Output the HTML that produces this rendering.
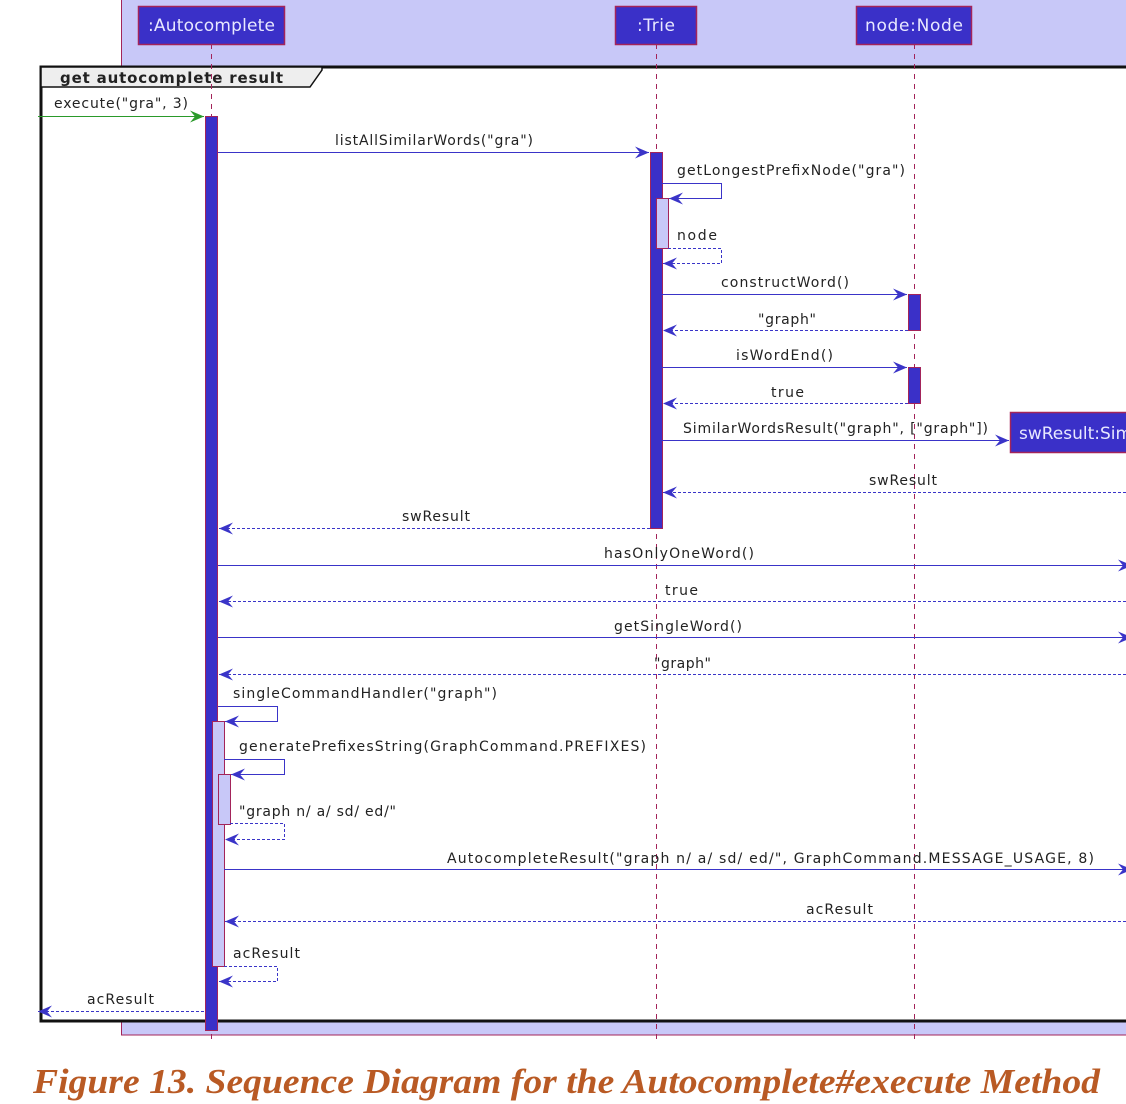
<!DOCTYPE html>
<html><head><meta charset="utf-8"><style>
html,body{margin:0;padding:0;background:#fff;width:1126px;height:1104px;overflow:hidden}
svg{display:block}
text{font-family:"DejaVu Sans","Liberation Sans",sans-serif;font-size:14px;fill:#222}
</style></head><body>
<svg width="1126" height="1104" viewBox="0 0 1126 1104" xmlns="http://www.w3.org/2000/svg">
<defs>
<marker id="a" viewBox="0 0 14 12" refX="14" refY="6" markerWidth="14" markerHeight="12" markerUnits="userSpaceOnUse" orient="auto"><polygon points="0,0 14,6 0,12 5,6" fill="#3a34c8"/></marker>
<marker id="g" viewBox="0 0 14 12" refX="14" refY="6" markerWidth="14" markerHeight="12" markerUnits="userSpaceOnUse" orient="auto"><polygon points="0,0 14,6 0,12 5,6" fill="#2a9a2a"/></marker>
</defs>
<rect x="121.5" y="-5" width="1020" height="1040" fill="#c8c8f8" stroke="#a3245a" stroke-width="1"/>
<rect x="41" y="67" width="1100" height="954" fill="#fff" stroke="#111" stroke-width="3"/>
<polygon points="41,67 322,67 322,70 310,87 41,87" fill="#eee" stroke="#111" stroke-width="1.5"/>
<text x="60" y="83" style="font-weight:bold;font-size:15px" textLength="223">get autocomplete result</text>
<g stroke="#a3245a" stroke-width="1" stroke-dasharray="5,5">
<line x1="211.5" y1="44" x2="211.5" y2="1042"/>
<line x1="656.5" y1="44" x2="656.5" y2="1042"/>
<line x1="914.5" y1="44" x2="914.5" y2="1042"/>
</g>
<g fill="#3a30c8" stroke="#a3245a" stroke-width="1.5">
<rect x="138.5" y="6.5" width="146" height="38"/>
<rect x="615.5" y="6.5" width="81" height="38"/>
<rect x="856.5" y="6.5" width="115" height="38"/>
<rect x="1010.5" y="412.5" width="130" height="40"/>
</g>
<text x="148" y="31" style="fill:#e8e8ff;font-size:17px" textLength="127">:Autocomplete</text>
<text x="637" y="31" style="fill:#e8e8ff;font-size:17px" textLength="38">:Trie</text>
<text x="865" y="31" style="fill:#e8e8ff;font-size:17px" textLength="98">node:Node</text>
<text x="1019" y="439" style="fill:#e8e8ff;font-size:17px">swResult:SimilarWordsResult</text>
<g stroke="#a3245a" stroke-width="1">
<rect x="205.5" y="116.5" width="12" height="914" fill="#3a30c8"/>
<rect x="650.5" y="152.5" width="12" height="376" fill="#3a30c8"/>
<rect x="656.5" y="198.5" width="12" height="50" fill="#c8c8f8"/>
<rect x="908.5" y="294.5" width="12" height="36" fill="#3a30c8"/>
<rect x="908.5" y="367.5" width="12" height="36" fill="#3a30c8"/>
<rect x="212.5" y="721.5" width="12" height="245" fill="#c8c8f8"/>
<rect x="218.5" y="774.5" width="12" height="50" fill="#c8c8f8"/>
</g>
<g fill="none" stroke="#3a34c8" stroke-width="1">
<line x1="38" y1="116.5" x2="204" y2="116.5" stroke="#2a9a2a" marker-end="url(#g)"/>
<line x1="218" y1="152.5" x2="649" y2="152.5" marker-end="url(#a)"/>
<polyline points="662,183.5 721.5,183.5 721.5,198.5 669,198.5" marker-end="url(#a)"/>
<polyline points="668,248.5 721.5,248.5 721.5,263.5 663,263.5" stroke-dasharray="3,2" marker-end="url(#a)"/>
<line x1="662" y1="294.5" x2="907" y2="294.5" marker-end="url(#a)"/>
<line x1="908" y1="330.5" x2="663" y2="330.5" stroke-dasharray="3,2" marker-end="url(#a)"/>
<line x1="662" y1="367.5" x2="907" y2="367.5" marker-end="url(#a)"/>
<line x1="908" y1="403.5" x2="663" y2="403.5" stroke-dasharray="3,2" marker-end="url(#a)"/>
<line x1="662" y1="440.5" x2="1009" y2="440.5" marker-end="url(#a)"/>
<line x1="1126" y1="492.5" x2="663" y2="492.5" stroke-dasharray="3,2" marker-end="url(#a)"/>
<line x1="650" y1="528.5" x2="219" y2="528.5" stroke-dasharray="3,2" marker-end="url(#a)"/>
<line x1="218" y1="565.5" x2="1132" y2="565.5" marker-end="url(#a)"/>
<line x1="1126" y1="601.5" x2="219" y2="601.5" stroke-dasharray="3,2" marker-end="url(#a)"/>
<line x1="218" y1="637.5" x2="1132" y2="637.5" marker-end="url(#a)"/>
<line x1="1126" y1="674.5" x2="219" y2="674.5" stroke-dasharray="3,2" marker-end="url(#a)"/>
<polyline points="218,706.5 277.5,706.5 277.5,721.5 225,721.5" marker-end="url(#a)"/>
<polyline points="224,759.5 284.5,759.5 284.5,774.5 231,774.5" marker-end="url(#a)"/>
<polyline points="230,823.5 284.5,823.5 284.5,839.5 225,839.5" stroke-dasharray="3,2" marker-end="url(#a)"/>
<line x1="224" y1="869.5" x2="1132" y2="869.5" marker-end="url(#a)"/>
<line x1="1126" y1="921.5" x2="225" y2="921.5" stroke-dasharray="3,2" marker-end="url(#a)"/>
<polyline points="224,966.5 277.5,966.5 277.5,981.5 219,981.5" stroke-dasharray="3,2" marker-end="url(#a)"/>
<line x1="204" y1="1011.5" x2="38" y2="1011.5" stroke-dasharray="3,2" marker-end="url(#a)"/>
</g>
<text x="54" y="108" textLength="134">execute("gra", 3)</text>
<text x="335" y="145" textLength="198">listAllSimilarWords("gra")</text>
<text x="677" y="175" textLength="228">getLongestPrefixNode("gra")</text>
<text x="677" y="240" textLength="40">node</text>
<text x="721" y="287" textLength="128">constructWord()</text>
<text x="758" y="324" textLength="58">"graph"</text>
<text x="736" y="360" textLength="97">isWordEnd()</text>
<text x="771" y="397" textLength="33">true</text>
<text x="683" y="433" textLength="305">SimilarWordsResult("graph", ["graph"])</text>
<text x="869" y="485" textLength="68">swResult</text>
<text x="402" y="521" textLength="68">swResult</text>
<text x="604" y="558" textLength="150">hasOnlyOneWord()</text>
<text x="665" y="595" textLength="33">true</text>
<text x="614" y="631" textLength="128">getSingleWord()</text>
<text x="654" y="668" textLength="57">"graph"</text>
<text x="233" y="698" textLength="264">singleCommandHandler("graph")</text>
<text x="239" y="751" textLength="407">generatePrefixesString(GraphCommand.PREFIXES)</text>
<text x="239" y="816" textLength="157">"graph n/ a/ sd/ ed/"</text>
<text x="447" y="863" textLength="647">AutocompleteResult("graph n/ a/ sd/ ed/", GraphCommand.MESSAGE_USAGE, 8)</text>
<text x="806" y="914" textLength="67">acResult</text>
<text x="233" y="958" textLength="67">acResult</text>
<text x="87" y="1004" textLength="67">acResult</text>
<text x="33" y="1093" textLength="1067" lengthAdjust="spacingAndGlyphs" style="font-family:'Liberation Serif',serif;font-style:italic;font-weight:bold;font-size:35px;fill:#b95a24">Figure 13. Sequence Diagram for the Autocomplete#execute Method</text>
</svg>
</body></html>
